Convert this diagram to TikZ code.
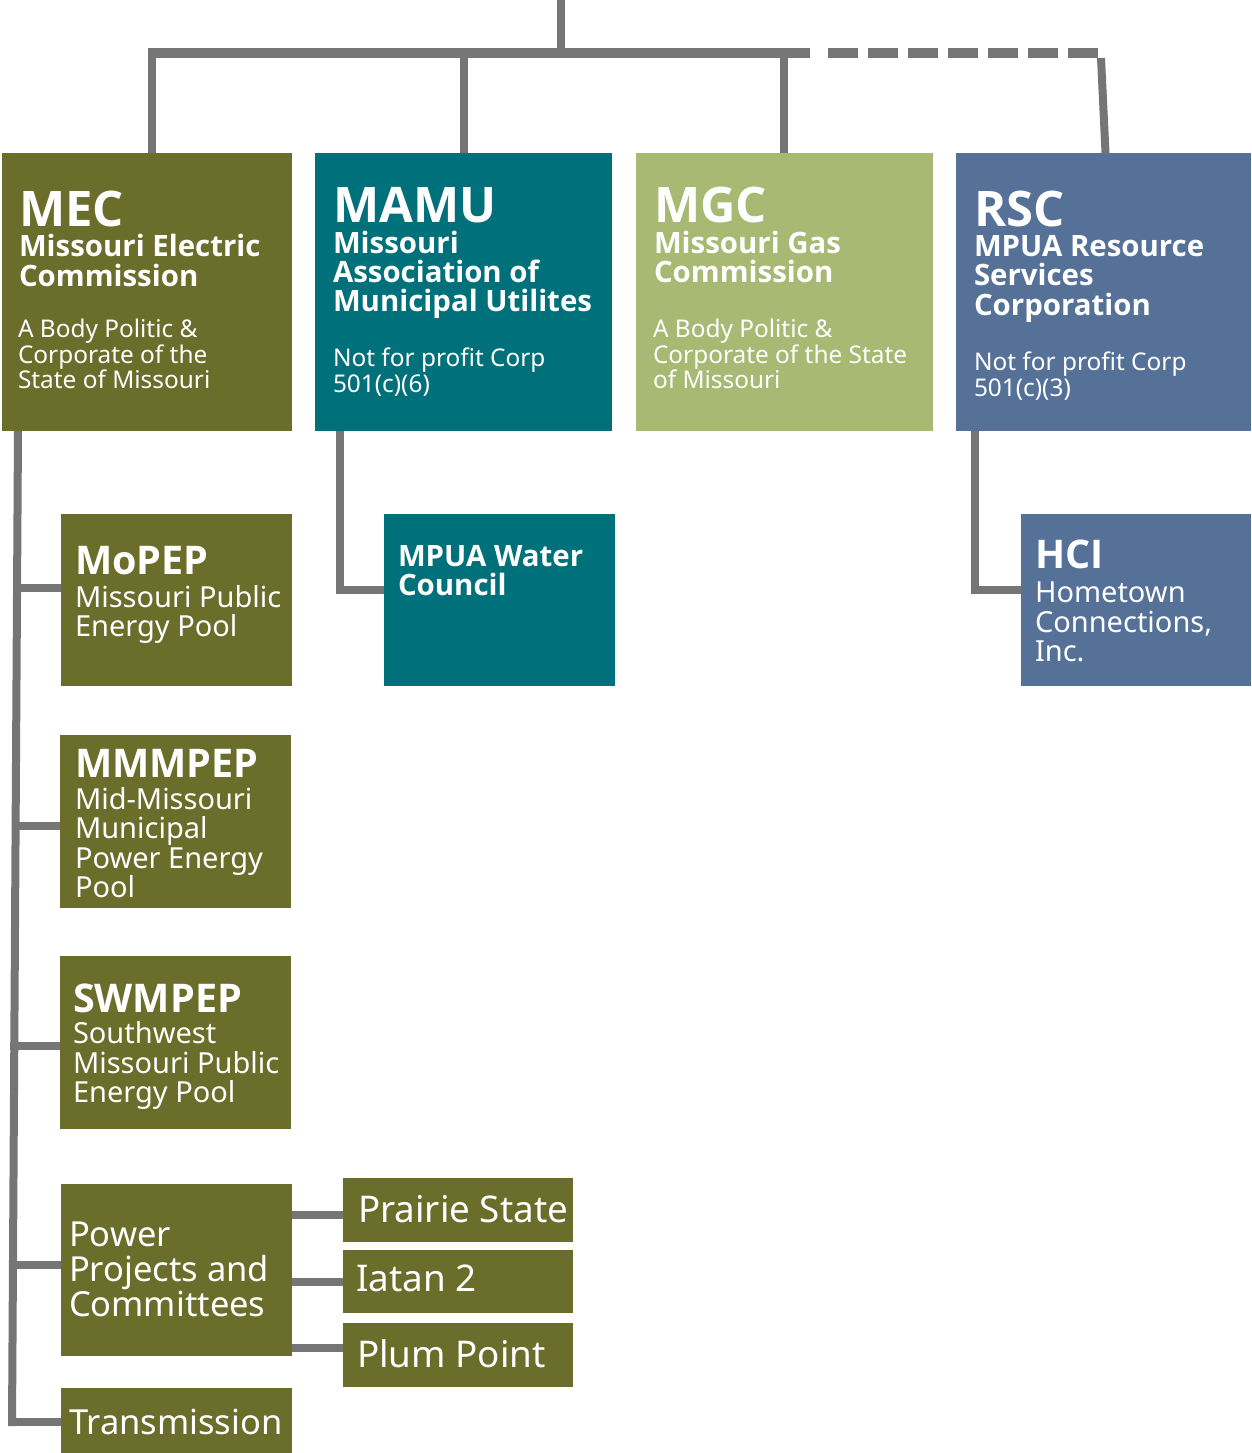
\documentclass[tikz,border=0pt]{standalone}
\usepackage{fontspec}
\setmainfont{Noto Sans}
\newfontfamily\bfam{Open Sans}
\usetikzlibrary{calc}
\definecolor{olive}{HTML}{6B6D2B}
\definecolor{teal2}{HTML}{00717A}
\definecolor{lgreen}{HTML}{A8B974}
\definecolor{blue2}{HTML}{557198}
\definecolor{lgray}{HTML}{757575}
\tikzset{
  box/.style={fill=#1, draw=none, inner sep=0pt, outer sep=0pt, anchor=north west},
  tl/.style={anchor=base west, inner sep=0pt, outer sep=0pt, text=white},
  fbig/.style={font=\bfam\bfseries\fontsize{49}{49}\selectfont},
  fsub/.style={font=\bfam\bfseries\fontsize{29.4}{29.4}\selectfont},
  fsmall/.style={font=\fontsize{24.4}{24.4}\selectfont},
  fmid/.style={font=\bfam\bfseries\fontsize{39.5}{39.5}\selectfont},
  fmidr/.style={font=\fontsize{29}{29}\selectfont},
  flarge/.style={font=\fontsize{34.5}{34.5}\selectfont},
  fproj/.style={font=\fontsize{36.8}{36.8}\selectfont},
  conn/.style={draw=lgray, line width=8pt},
  bar/.style={draw=lgray, line width=10pt},
}
\begin{document}
\begin{tikzpicture}[x=1pt,y=-1pt]
\useasboundingbox (0,0) rectangle (1251,1453);
% main boxes
\node[box=olive, minimum width=290pt, minimum height=278pt] (mec) at (2,153) {};
\node[box=teal2, minimum width=297pt, minimum height=278pt] (mamu) at (315,153) {};
\node[box=lgreen, minimum width=297pt, minimum height=278pt] (mgc) at (636,153) {};
\node[box=blue2, minimum width=295pt, minimum height=278pt] (rsc) at (956,153) {};
% sub boxes
\node[box=olive, minimum width=231pt, minimum height=172pt] (mopep) at (61,514) {};
\node[box=olive, minimum width=231pt, minimum height=173pt] (mmmpep) at (60,735) {};
\node[box=olive, minimum width=231pt, minimum height=173pt] (swmpep) at (60,956) {};
\node[box=olive, minimum width=231pt, minimum height=172pt] (power) at (61,1184) {};
\node[box=olive, minimum width=231pt, minimum height=65pt] (trans) at (61,1388) {};
\node[box=olive, minimum width=230pt, minimum height=64pt] (prairie) at (343,1178) {};
\node[box=olive, minimum width=230pt, minimum height=63pt] (iatan) at (343,1250) {};
\node[box=olive, minimum width=230pt, minimum height=64pt] (plum) at (343,1323) {};
\node[box=teal2, minimum width=231pt, minimum height=172pt] (water) at (384,514) {};
\node[box=blue2, minimum width=230pt, minimum height=172pt] (hci) at (1021,514) {};
% top connectors
\coordinate (top) at (561,0);
\coordinate (hub) at (561,53);
\coordinate (hl) at (148,53);
\coordinate (sEnd) at (810,53);
\coordinate (dstart) at (828,53);
\coordinate (hr) at (1101,53);
\draw[conn] (top) -- (hub);
\draw[conn] ([xshift=5pt]mec.north) -- ([xshift=5pt]mec.north |- hub);
\draw[conn] (mamu.north) -- (mamu.north |- hub);
\draw[conn] ([xshift=-1pt]mgc.north) -- ([xshift=-1pt]mgc.north |- hub);
\draw[conn] ([yshift=-5pt]hr) -- ([xshift=2pt]rsc.north);
\draw[bar] (hl) -- (sEnd);
\draw[bar, dash pattern=on 30pt off 10pt] (dstart) -- ([xshift=-3pt]hr);
% MEC spine
\coordinate (spA) at ([xshift=16pt]mec.south west);
\coordinate (spB) at (12,1422);
\draw[conn] (spA) -- ([yshift=-4pt]spB);
\coordinate (s1) at ($(spA)!0.158!(spB)$);
\coordinate (s2) at ($(spA)!0.399!(spB)$);
\coordinate (s3) at ($(spA)!0.621!(spB)$);
\coordinate (s4) at ($(spA)!0.842!(spB)$);
\draw[conn] ([xshift=-4pt]s1) -- (s1 -| mopep.west);
\draw[conn] ([xshift=-4pt]s2) -- (s2 -| mmmpep.west);
\draw[conn] ([xshift=-4pt]s3) -- (s3 -| swmpep.west);
\draw[conn] ([xshift=-4pt]s4) -- (s4 -| power.west);
\draw[conn] ([xshift=-4pt]spB) -- (spB -| trans.west);
% power projects branches
\draw[conn] ([yshift=-5pt]prairie.west) -- ([yshift=-5pt]prairie.west -| power.east);
\draw[conn] (iatan.west) -- (iatan.west -| power.east);
\draw[conn] ([yshift=7pt]plum.west) -- ([yshift=7pt]plum.west -| power.east);
% MAMU and RSC branches
\coordinate (m1) at ([xshift=25pt]mamu.south west);
\draw[conn] (m1) |- ([yshift=10pt]water.west);
\coordinate (r1) at ([xshift=19pt]rsc.south west);
\draw[conn] (r1) |- ([yshift=10pt]hci.west);
% texts MEC
\node[tl,fbig] (mecA) at (19,226) {MEC};
\node[tl,fsub] (mecB) at (19,256) {Missouri Electric};
\node[tl,fsub] (mecC) at (19,286) {Commission};
\node[tl,fsmall] (mecD) at (18,337) {A Body Politic \&};
\node[tl,fsmall] (mecE) at (18,363) {Corporate of the};
\node[tl,fsmall] (mecF) at (18,388) {State of Missouri};
% MAMU
\node[tl,fbig] (mamuA) at (333,222) {MAMU};
\node[tl,fsub] (mamuB) at (333,253) {Missouri};
\node[tl,fsub] (mamuC) at (333,282) {Association of};
\node[tl,fsub] (mamuD) at (333,311) {Municipal Utilites};
\node[tl,fsmall] (mamuE) at (333,366) {Not for profit Corp};
\node[tl,fsmall] (mamuF) at (333,392) {501(c)(6)};
% MGC
\node[tl,fbig] (mgcA) at (654,222) {MGC};
\node[tl,fsub] (mgcB) at (654,253) {Missouri Gas};
\node[tl,fsub] (mgcC) at (654,282) {Commission};
\node[tl,fsmall] (mgcD) at (653,337) {A Body Politic \&};
\node[tl,fsmall] (mgcE) at (653,363) {Corporate of the State};
\node[tl,fsmall] (mgcF) at (653,388) {of Missouri};
% RSC
\node[tl,fbig] (rscA) at (974,226) {RSC};
\node[tl,fsub] (rscB) at (974,256) {MPUA Resource};
\node[tl,fsub] (rscC) at (974,285) {Services};
\node[tl,fsub] (rscD) at (974,315) {Corporation};
\node[tl,fsmall] (rscE) at (974,370) {Not for profit Corp};
\node[tl,fsmall] (rscF) at (974,396) {501(c)(3)};
% MoPEP
\node[tl,fmid] (mopA) at (75,574) {MoPEP};
\node[tl,fmidr] (mopB) at (75,607) {Missouri Public};
\node[tl,fmidr] (mopC) at (75,636) {Energy Pool};
% MMMPEP
\node[tl,fmid] (mmmA) at (75,777) {MMMPEP};
\node[tl,fmidr] (mmmB) at (75,809) {Mid-Missouri};
\node[tl,fmidr] (mmmC) at (75,838) {Municipal};
\node[tl,fmidr] (mmmD) at (75,868) {Power Energy};
\node[tl,fmidr] (mmmE) at (75,897) {Pool};
% SWMPEP
\node[tl,fmid] (swA) at (73,1012) {SWMPEP};
\node[tl,fmidr] (swB) at (73,1043) {Southwest};
\node[tl,fmidr] (swC) at (73,1073) {Missouri Public};
\node[tl,fmidr] (swD) at (73,1102) {Energy Pool};
% Power
\node[tl,flarge] (powA) at (69,1246) {Power};
\node[tl,flarge] (powB) at (69,1281) {Projects and};
\node[tl,flarge] (powC) at (69,1316) {Committees};
\node[tl,flarge] (transA) at (69,1434) {Transmission};
\node[tl,fproj] (prA) at (358,1222) {Prairie State};
\node[tl,fproj] (iaA) at (356,1291) {Iatan 2};
\node[tl,fproj] (plA) at (357,1367) {Plum Point};
% Water
\node[tl,fsub] (watA) at (398,566) {MPUA Water};
\node[tl,fsub] (watB) at (398,595) {Council};
% HCI
\node[tl,fmid] (hciA) at (1035,568) {HCI};
\node[tl,fmidr] (hciB) at (1035,602) {Hometown};
\node[tl,fmidr] (hciC) at (1035,632) {Connections,};
\node[tl,fmidr] (hciD) at (1035,661) {Inc.};
\end{tikzpicture}
\end{document}
